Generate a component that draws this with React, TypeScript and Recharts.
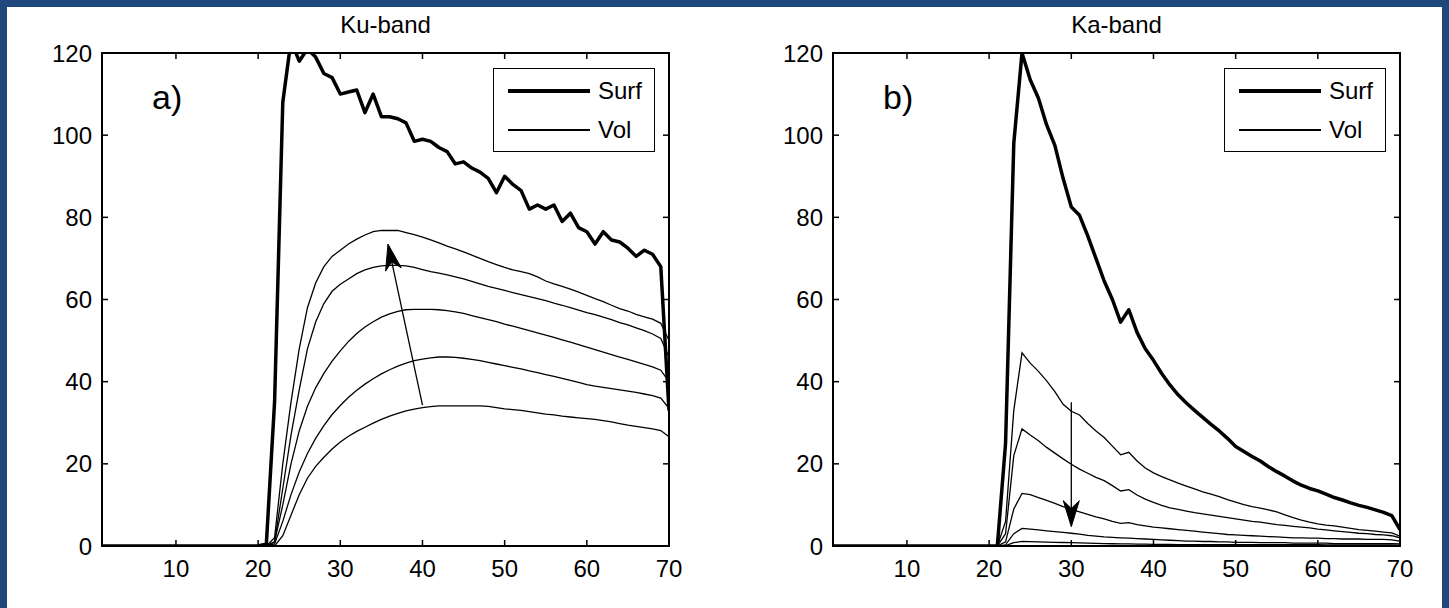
import React from 'react';
import { LineChart, Line, XAxis, YAxis, ReferenceLine, ReferenceArea } from 'recharts';

// range bins (x axis)
const bins = [
  1, 2, 3, 4, 5, 6, 7, 8, 9, 10, 11, 12, 13, 14, 15, 16, 17, 18, 19, 20,
  21, 22, 23, 24, 25, 26, 27, 28, 29, 30, 31, 32, 33, 34, 35, 36, 37, 38, 39, 40,
  41, 42, 43, 44, 45, 46, 47, 48, 49, 50, 51, 52, 53, 54, 55, 56, 57, 58, 59, 60,
  61, 62, 63, 64, 65, 66, 67, 68, 69, 70,
];
const xTicks = [10, 20, 30, 40, 50, 60, 70];
const yTicks = [0, 20, 40, 60, 80, 100, 120];

// Ku-band
const kuSurf = [
  0, 0, 0, 0, 0, 0, 0, 0, 0, 0, 0, 0, 0, 0, 0, 0, 0, 0, 0, 0,
  0.5, 35, 108, 123, 118, 121, 119, 115, 114, 110,
  110.5, 111, 105.5, 110, 104.5, 104.5, 104, 103, 98.5, 99,
  98.5, 97, 96, 93, 93.5, 92, 91, 89.5, 86, 90,
  88, 86.5, 82, 83, 82, 83, 79, 81, 77.5, 76.5,
  73.5, 76.5, 74.5, 74, 72.5, 70.5, 72, 71, 68, 33,
];
const kuVol1 = [
  0, 0, 0, 0, 0, 0, 0, 0, 0, 0, 0, 0, 0, 0, 0, 0, 0, 0, 0, 0,
  0, 2, 20, 35, 48, 58, 64, 68, 70.5, 72,
  73.5, 74.7, 75.7, 76.5, 76.8, 76.8, 76.8, 76.3, 75.8, 75.2,
  74.5, 73.8, 73, 72.3, 71.6, 70.8, 70, 69.2, 68.5, 67.8,
  67.2, 66.8, 66.3, 65.5, 64.5, 63.8, 63.2, 62.5, 61.8, 61,
  60.2, 59.5, 58.6, 57.8, 57.2, 56.4, 55.8, 55.2, 54.2, 50,
];
const kuVol2 = [
  0, 0, 0, 0, 0, 0, 0, 0, 0, 0, 0, 0, 0, 0, 0, 0, 0, 0, 0, 0,
  0, 1, 14, 27, 38, 48, 54.5, 59, 62, 63.7,
  65, 66.3, 67.2, 67.8, 68.2, 68.3, 68.3, 68.2, 67.8, 67.3,
  66.8, 66.4, 66, 65.5, 65, 64.4, 63.8, 63.2, 62.7, 62.2,
  61.7, 61.2, 60.7, 60.2, 59.7, 59.1, 58.6, 58, 57.4, 56.8,
  56.3, 55.7, 55.1, 54.4, 53.8, 53.1, 52.4, 51.6, 50.5, 46,
];
const kuVol3 = [
  0, 0, 0, 0, 0, 0, 0, 0, 0, 0, 0, 0, 0, 0, 0, 0, 0, 0, 0, 0,
  0, 1, 10, 20, 28, 34, 38.5, 42, 45, 47.5,
  49.8, 51.7, 53.3, 54.6, 55.7, 56.5, 57.1, 57.5, 57.6, 57.6,
  57.6, 57.5, 57.3, 57, 56.6, 56.1, 55.6, 55.1, 54.6, 54,
  53.5, 53, 52.4, 51.9, 51.3, 50.8, 50.2, 49.6, 49, 48.4,
  47.8, 47.2, 46.6, 46, 45.4, 44.8, 44.2, 43.6, 42.8, 40,
];
const kuVol4 = [
  0, 0, 0, 0, 0, 0, 0, 0, 0, 0, 0, 0, 0, 0, 0, 0, 0, 0, 0, 0,
  0, 0.5, 6, 12.5, 18, 22.5, 26.2, 29.3, 32, 34.2,
  36.2, 37.9, 39.4, 40.7, 41.9, 42.9, 43.8, 44.5, 45.1, 45.5,
  45.8, 46, 46, 45.9, 45.7, 45.4, 45.1, 44.7, 44.3, 43.9,
  43.5, 43.1, 42.6, 42.2, 41.7, 41.3, 40.8, 40.3, 39.8, 39.3,
  38.9, 38.6, 38.3, 38, 37.7, 37.4, 37, 36.6, 36, 33.5,
];
const kuVol5 = [
  0, 0, 0, 0, 0, 0, 0, 0, 0, 0, 0, 0, 0, 0, 0, 0, 0, 0, 0, 0,
  0, 0, 2.5, 7.5, 12.5, 16.5, 19.4, 21.6, 23.6, 25.3,
  26.7, 27.9, 28.9, 29.9, 30.8, 31.6, 32.3, 32.9, 33.3, 33.7,
  33.9, 34.1, 34.1, 34.1, 34.1, 34.1, 34.1, 34, 33.7, 33.4,
  33.2, 33, 32.7, 32.4, 32.1, 31.9, 31.6, 31.4, 31.2, 31,
  30.8, 30.5, 30.2, 29.8, 29.4, 29.1, 28.8, 28.5, 28.1, 26.6,
];

// Ka-band
const kaSurf = [
  0, 0, 0, 0, 0, 0, 0, 0, 0, 0, 0, 0, 0, 0, 0, 0, 0, 0, 0, 0,
  0, 25, 98, 120, 113.5, 109, 102.5, 97.5, 89.5, 82.5,
  80.5, 75.5, 70, 64.5, 60, 54.5, 57.5, 52, 48, 45.2,
  42, 39.2, 36.8, 34.8, 33, 31.3, 29.6, 28, 26.2, 24.2,
  23, 21.8, 20.7, 19.3, 18.1, 17, 15.8, 14.8, 14, 13.4,
  12.6, 11.8, 11.2, 10.5, 9.9, 9.4, 8.8, 8.2, 7.4, 4,
];
const kaVol1 = [
  0, 0, 0, 0, 0, 0, 0, 0, 0, 0, 0, 0, 0, 0, 0, 0, 0, 0, 0, 0,
  0, 6, 33, 47, 44.5, 42.5, 40.2, 37.6, 34.5, 32.8,
  31.9, 29.8, 28, 26.4, 24.3, 22.2, 22.8, 20.7, 19, 17.8,
  16.9, 16.1, 15.3, 14.6, 13.9, 13.2, 12.6, 12, 11.3, 10.7,
  10.1, 9.6, 9.2, 8.8, 8.3, 7.6, 6.9, 6.3, 5.8, 5.4,
  5.1, 4.9, 4.6, 4.3, 4, 3.8, 3.6, 3.4, 3.2, 2.4,
];
const kaVol2 = [
  0, 0, 0, 0, 0, 0, 0, 0, 0, 0, 0, 0, 0, 0, 0, 0, 0, 0, 0, 0,
  0, 3, 22, 28.5, 27, 25.6, 24, 22.6, 21.2, 19.9,
  18.7, 17.7, 16.7, 15.9, 14.7, 13.4, 13.7, 12.4, 11.4, 10.6,
  9.9, 9.3, 8.9, 8.5, 8.1, 7.8, 7.5, 7.2, 6.9, 6.6,
  6.3, 6, 5.8, 5.5, 5.2, 5, 4.8, 4.6, 4.4, 4.1,
  3.9, 3.7, 3.5, 3.3, 3.1, 3, 2.8, 2.7, 2.5, 2,
];
const kaVol3 = [
  0, 0, 0, 0, 0, 0, 0, 0, 0, 0, 0, 0, 0, 0, 0, 0, 0, 0, 0, 0,
  0, 1, 9, 12.8, 12.5, 11.8, 11.1, 10.4, 9.6, 8.9,
  8.3, 7.7, 7.1, 6.6, 6, 5.5, 5.7, 5.2, 4.9, 4.6,
  4.4, 4.2, 4, 3.8, 3.6, 3.4, 3.2, 3, 2.8, 2.7,
  2.6, 2.5, 2.4, 2.3, 2.2, 2.1, 2, 2, 1.9, 1.9,
  1.8, 1.8, 1.7, 1.7, 1.7, 1.6, 1.6, 1.6, 1.5, 1.2,
];
const kaVol4 = [
  0, 0, 0, 0, 0, 0, 0, 0, 0, 0, 0, 0, 0, 0, 0, 0, 0, 0, 0, 0,
  0, 0.3, 3, 4.3, 4.1, 3.9, 3.7, 3.5, 3.3, 3.1,
  2.9, 2.6, 2.4, 2.2, 2.1, 2, 1.9, 1.8, 1.7, 1.6,
  1.5, 1.4, 1.3, 1.2, 1.2, 1.1, 1.1, 1, 1, 0.9,
  0.9, 0.9, 0.8, 0.8, 0.8, 0.8, 0.7, 0.7, 0.7, 0.7,
  0.7, 0.6, 0.6, 0.6, 0.6, 0.6, 0.6, 0.6, 0.6, 0.5,
];
const kaVol5 = [
  0, 0, 0, 0, 0, 0, 0, 0, 0, 0, 0, 0, 0, 0, 0, 0, 0, 0, 0, 0,
  0, 0.1, 0.8, 1.1, 1.05, 1, 0.95, 0.9, 0.85, 0.8,
  0.75, 0.7, 0.65, 0.6, 0.55, 0.5, 0.5, 0.45, 0.45, 0.4,
  0.4, 0.4, 0.35, 0.35, 0.35, 0.3, 0.3, 0.3, 0.3, 0.3,
  0.3, 0.3, 0.3, 0.3, 0.3, 0.3, 0.3, 0.3, 0.3, 0.3,
  0.25, 0.25, 0.25, 0.25, 0.25, 0.25, 0.25, 0.25, 0.25, 0.2,
];

// arrow annotations (tail -> head), in data units
const kuArrow = [{ x: 40, y: 34.3 }, { x: 35.8, y: 73.5 }];
const kaArrow = [{ x: 30, y: 35 }, { x: 30, y: 4.7 }];

const legendItems = [
  { name: 'Surf', width: 3.5 },
  { name: 'Vol', width: 1.3 },
];

const FONT = '"Liberation Sans", Arial, Helvetica, sans-serif';
const volKeys = ['v1', 'v2', 'v3', 'v4', 'v5'];

// plot box (chart-local px)
const PLOT_TOP = 53;
const PLOT_BOTTOM = 546;
const TICK_LEN = 6;
const X_MARGIN = 14;
const Y_MARGIN = 10;

const buildRows = (surf: number[], vols: number[][]) =>
  bins.map((x, i) => {
    const row: Record<string, number> = { x, surf: surf[i] };
    vols.forEach((v, k) => { row[volKeys[k]] = v[i]; });
    return row;
  });

const kuData = buildRows(kuSurf, [kuVol1, kuVol2, kuVol3, kuVol4, kuVol5]);
const kaData = buildRows(kaSurf, [kaVol1, kaVol2, kaVol3, kaVol4, kaVol5]);

// matlab-style: inward ticks on both sides of the box
const XTick = (props: any) => {
  const { x, y, payload } = props;
  const axisY = y - X_MARGIN;
  return (
    <g>
      <line x1={x} x2={x} y1={axisY} y2={axisY - TICK_LEN} stroke="#000" strokeWidth={1.5} />
      <line x1={x} x2={x} y1={PLOT_TOP} y2={PLOT_TOP + TICK_LEN} stroke="#000" strokeWidth={1.5} />
      <text x={x} y={y} dy="0.71em" textAnchor="middle" fontFamily={FONT} fontSize={24} fill="#000">
        {payload.value}
      </text>
    </g>
  );
};

const makeYTick = (plotRight: number) => (props: any) => {
  const { x, y, payload } = props;
  const axisX = x + Y_MARGIN;
  return (
    <g>
      <line x1={axisX} x2={axisX + TICK_LEN} y1={y} y2={y} stroke="#000" strokeWidth={1.5} />
      <line x1={plotRight - TICK_LEN} x2={plotRight} y1={y} y2={y} stroke="#000" strokeWidth={1.5} />
      <text x={x} y={y} dy="0.355em" textAnchor="end" fontFamily={FONT} fontSize={24} fill="#000">
        {payload.value}
      </text>
    </g>
  );
};

const ArrowShape = (props: any) => {
  const { x1, y1, x2, y2 } = props;
  const ang = Math.atan2(y2 - y1, x2 - x1);
  const len = 26;
  const half = 8;
  const c = Math.cos(ang);
  const s = Math.sin(ang);
  const bx = x2 - len * c;
  const by = y2 - len * s;
  const nx = x2 - len * 0.7 * c;
  const ny = y2 - len * 0.7 * s;
  const pts = [
    `${x2},${y2}`,
    `${bx - s * half},${by + c * half}`,
    `${nx},${ny}`,
    `${bx + s * half},${by - c * half}`,
  ].join(' ');
  return (
    <g>
      <line x1={x1} y1={y1} x2={nx} y2={ny} stroke="#000" strokeWidth={1.3} />
      <polygon points={pts} fill="#000" stroke="#000" strokeWidth={1} />
    </g>
  );
};

const LegendBox = ({ left }: { left: number }) => (
  <div style={{
    position: 'absolute', left, top: 68, width: 162, height: 84,
    boxSizing: 'border-box', border: '1.5px solid #000', background: '#fff',
  }}>
    {legendItems.map((item, i) => (
      <div key={item.name} style={{ position: 'absolute', left: 0, top: i === 0 ? 8 : 47, height: 28, width: 160 }}>
        <div style={{
          position: 'absolute', left: 14, top: 14 - item.width / 2, width: 82,
          height: item.width, background: '#000',
        }} />
        <div style={{
          position: 'absolute', left: 104, top: 0, fontFamily: FONT, fontSize: 24,
          lineHeight: '28px', color: '#000',
        }}>{item.name}</div>
      </div>
    ))}
  </div>
);

interface PanelProps {
  left: number;
  width: number;
  axisWidth: number;
  rightGap: number;
  title: string;
  tag: string;
  data: Record<string, number>[];
  arrow: { x: number; y: number }[];
}

const Panel = ({ left, width, axisWidth, rightGap, title, tag, data, arrow }: PanelProps) => {
  const plotLeft = axisWidth;
  const plotRight = width - rightGap;
  const plotWidth = plotRight - plotLeft;
  return (
    <div style={{ position: 'absolute', left, top: 0, width, height: 608 }}>
      <div style={{
        position: 'absolute', left: plotLeft, width: plotWidth, top: 11, textAlign: 'center',
        fontFamily: FONT, fontSize: 24, lineHeight: '28px', color: '#000',
      }}>{title}</div>
      <LineChart width={width} height={608} data={data}
        margin={{ top: PLOT_TOP, right: rightGap, bottom: 0, left: 0 }}>
        <XAxis type="number" dataKey="x" domain={[1, 70]} ticks={xTicks} allowDataOverflow
          height={608 - PLOT_BOTTOM} tickSize={0} tickMargin={X_MARGIN} tickLine={false}
          tick={(p: any) => <XTick {...p} />}
          axisLine={{ stroke: '#000', strokeWidth: 2 }} />
        <YAxis type="number" domain={[0, 120]} ticks={yTicks} allowDataOverflow width={axisWidth}
          tickSize={0} tickMargin={Y_MARGIN} tickLine={false}
          tick={makeYTick(plotRight)}
          axisLine={{ stroke: '#000', strokeWidth: 2 }} />
        <ReferenceArea x1={1} x2={70} y1={0} y2={120} fill="none" fillOpacity={0}
          stroke="#000" strokeWidth={2} ifOverflow="visible" />
        {volKeys.map((k) => (
          <Line key={k} type="linear" dataKey={k} stroke="#000" strokeWidth={1.3} dot={false}
            isAnimationActive={false} legendType="none" />
        ))}
        <Line type="linear" dataKey="surf" stroke="#000" strokeWidth={3.5} dot={false}
          strokeLinejoin="round" isAnimationActive={false} />
        <ReferenceLine segment={arrow} shape={ArrowShape} ifOverflow="visible" />
      </LineChart>
      <div style={{
        position: 'absolute', left: plotLeft + 50, top: 77, fontFamily: FONT,
        fontSize: 34, lineHeight: '40px', color: '#000',
      }}>{tag}</div>
      <LegendBox left={plotRight - 176} />
    </div>
  );
};

export default function App() {
  return (
    <div style={{ position: 'absolute', left: 0, top: 0, width: 1449, height: 608, background: '#1F497D', overflow: 'hidden' }}>
      <div style={{ position: 'absolute', left: 7, top: 7, width: 1435, height: 601, background: '#fff' }} />
      <Panel left={0} width={720} axisWidth={102} rightGap={51} title="Ku-band" tag="a)" data={kuData} arrow={kuArrow} />
      <Panel left={730} width={719} axisWidth={103} rightGap={49} title="Ka-band" tag="b)" data={kaData} arrow={kaArrow} />
    </div>
  );
}
